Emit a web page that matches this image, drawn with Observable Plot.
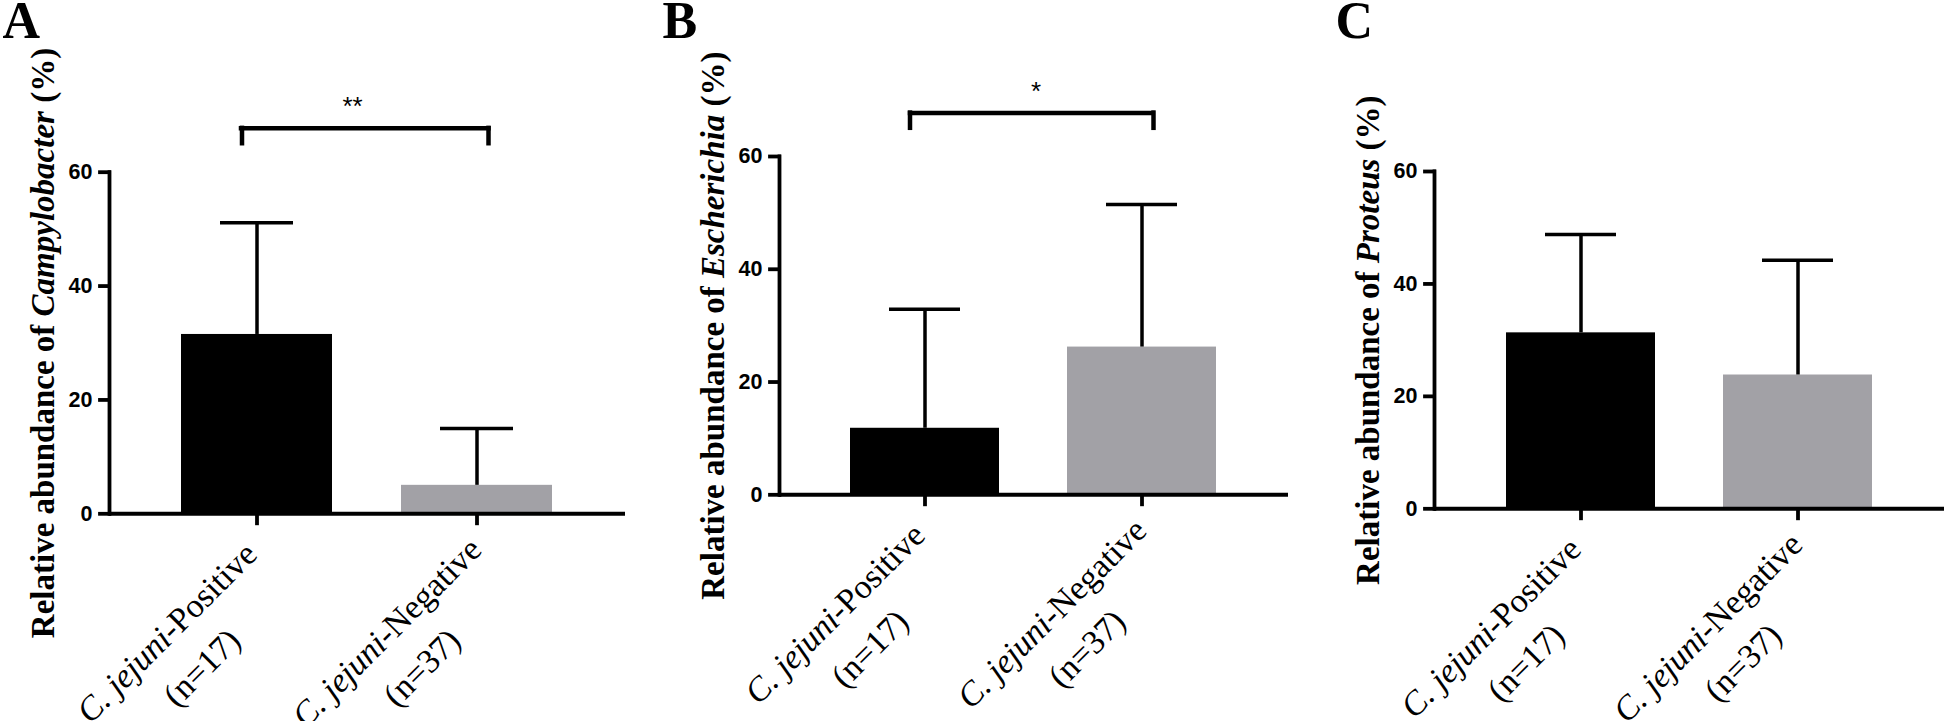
<!DOCTYPE html>
<html>
<head>
<meta charset="utf-8">
<script src="https://cdn.jsdelivr.net/npm/d3@7"></script>
<script src="https://cdn.jsdelivr.net/npm/@observablehq/plot@0.6"></script>
<style>
  html, body { margin: 0; padding: 0; background: #fff; }
  #root { position: relative; width: 1946px; height: 721px; overflow: hidden; background: #fff; }
  .panel { position: absolute; top: 0; }
  .panel svg { overflow: visible; }
</style>
</head>
<body>
<div id="root"></div>
<script>
// ---- data ----
const groups = ["Positive", "Negative"];
const xLabels = ["C. jejuni-Positive\n(n=17)", "C. jejuni-Negative\n(n=37)"];
const yTicks = [0, 20, 40, 60];

const genera = ["Campylobacter", "Escherichia", "Proteus"];
const panelLetters = ["A", "B", "C"];
const significance = ["**", "*", null];

const campylobacterMean = [31.5, 5.0];
const campylobacterSD = [19.6, 10.0];
const escherichiaMean = [11.8, 26.2];
const escherichiaSD = [21.1, 25.3];
const proteusMean = [31.3, 23.8];
const proteusSD = [17.5, 20.4];

const bracketTop = 67.7;
const bracketFoot = 65.0;
const starLevel = 71.45;

// ---- styling / layout ----
const barFill = ["#000000", "#a2a1a6"];
const serif = '"Liberation Serif", "Times New Roman", serif';
const sans = '"Liberation Sans", Arial, sans-serif';

const panels = [
  {left: 0,    width: 650, mLeft: 109, mRight: 25, mTop: 171.7, mBottom: 207.7, mean: campylobacterMean, sd: campylobacterSD, starDx: -15, letterDx: 2},
  {left: 650,  width: 650, mLeft: 129, mRight: 12, mTop: 156,   mBottom: 226.7, mean: escherichiaMean,   sd: escherichiaSD,   starDx: 2,   letterDx: 12},
  {left: 1300, width: 646, mLeft: 134, mRight: 2,  mTop: 171,   mBottom: 212.7, mean: proteusMean,       sd: proteusSD,       starDx: 0,   letterDx: 35}
];

function italicize(svg, frags) {
  const ns = "http://www.w3.org/2000/svg";
  const walker = document.createTreeWalker(svg, NodeFilter.SHOW_TEXT);
  const nodes = [];
  while (walker.nextNode()) nodes.push(walker.currentNode);
  for (const node of nodes) {
    const s = node.nodeValue;
    const f = frags.find(f => s.includes(f));
    if (!f) continue;
    const i = s.indexOf(f);
    const parent = node.parentNode;
    const it = document.createElementNS(ns, "tspan");
    it.setAttribute("font-style", "italic");
    it.textContent = f;
    parent.insertBefore(document.createTextNode(s.slice(0, i)), node);
    parent.insertBefore(it, node);
    parent.insertBefore(document.createTextNode(s.slice(i + f.length)), node);
    parent.removeChild(node);
  }
}

function styleAxes(svg) {
  const tickStrings = yTicks.map(String);
  svg.querySelectorAll('g[aria-label="y-axis tick label"] text').forEach(t => {
    if (tickStrings.includes(t.textContent.trim())) {
      t.style.fontFamily = sans;
      t.style.fontWeight = "bold";
      t.style.fontSize = "21.5px";
    }
  });
  const strokeEls = [
    ...svg.querySelectorAll('g[aria-label*="axis tick"] path, g[aria-label*="axis tick"] line'),
    ...svg.querySelectorAll('[aria-label="frame"]'),
    ...svg.querySelectorAll('[aria-label="frame"] line, [aria-label="frame"] path')
  ];
  strokeEls.forEach(el => {
    el.style.strokeWidth = "3.8px";
    el.style.strokeLinecap = "square";
  });
}

const root = document.getElementById("root");

panels.forEach((p, k) => {
  const rows = groups.map((g, i) => ({group: g, label: xLabels[i], mean: p.mean[i], sd: p.sd[i]}));
  const title = `Relative abundance of ${genera[k]} (%)`;
  const bw = 150;
  const marks = [
    Plot.barY(rows, {x: "group", y: "mean", fill: (d, i) => barFill[i]}),
    Plot.ruleX(rows, {x: "group", y1: "mean", y2: d => d.mean + d.sd, strokeWidth: 3.5}),
    Plot.tickY(rows, {x: "group", y: d => d.mean + d.sd, strokeWidth: 3.5, inset: 39}),
    Plot.ruleY([0], {strokeWidth: 4}),
    Plot.text([title], {text: d => d, frameAnchor: "left", rotate: -90, dx: -66, textAnchor: "middle", lineAnchor: "middle",
      fontSize: 33, fontWeight: "bold", fontFamily: serif}),
    Plot.text(rows, {x: "group", text: "label", frameAnchor: "bottom", rotate: -45, dx: -76, dy: 133,
      textAnchor: "middle", lineAnchor: "middle", lineHeight: 1.46, fontSize: 34, fontFamily: serif}),
    Plot.text([panelLetters[k]], {text: d => d, frameAnchor: "top-left", dx: p.letterDx - p.mLeft, dy: 1 - p.mTop,
      textAnchor: "start", lineAnchor: "top", fontSize: 52, fontWeight: "bold", fontFamily: serif})
  ];
  if (significance[k]) {
    marks.push(
      Plot.ruleY([bracketTop], {y: d => d, x1: () => groups[0], x2: () => groups[1], insetLeft: bw / 2 - 15, insetRight: bw / 2 - 11.5, strokeWidth: 4.5, strokeLinecap: "square"}),
      Plot.ruleX([groups[0]], {x: d => d, y1: bracketFoot, y2: bracketTop, dx: -15, strokeWidth: 4.5, strokeLinecap: "square"}),
      Plot.ruleX([groups[1]], {x: d => d, y1: bracketFoot, y2: bracketTop, dx: 11.5, strokeWidth: 4.5, strokeLinecap: "square"}),
      Plot.text([significance[k]], {text: d => d, y: starLevel, dx: p.starDx, fontSize: 26, fontFamily: sans, lineAnchor: "middle"})
    );
  }
  const svg = Plot.plot({
    width: p.width,
    height: 721,
    marginLeft: p.mLeft,
    marginRight: p.mRight,
    marginTop: p.mTop,
    marginBottom: p.mBottom,
    style: {fontFamily: serif, background: "transparent", overflow: "visible", color: "#000"},
    x: {type: "band", domain: groups, paddingInner: 0.312, paddingOuter: 0.328, tickSize: 10, tickFormat: () => "", label: null},
    y: {domain: [0, 60], ticks: yTicks, tickSize: 9, tickPadding: 8, label: null, line: true},
    marks
  });
  italicize(svg, ["C. jejuni", genera[k]]);
  styleAxes(svg);
  const div = document.createElement("div");
  div.className = "panel";
  div.style.left = p.left + "px";
  div.style.width = p.width + "px";
  div.appendChild(svg);
  root.appendChild(div);
});
</script>
</body>
</html>
